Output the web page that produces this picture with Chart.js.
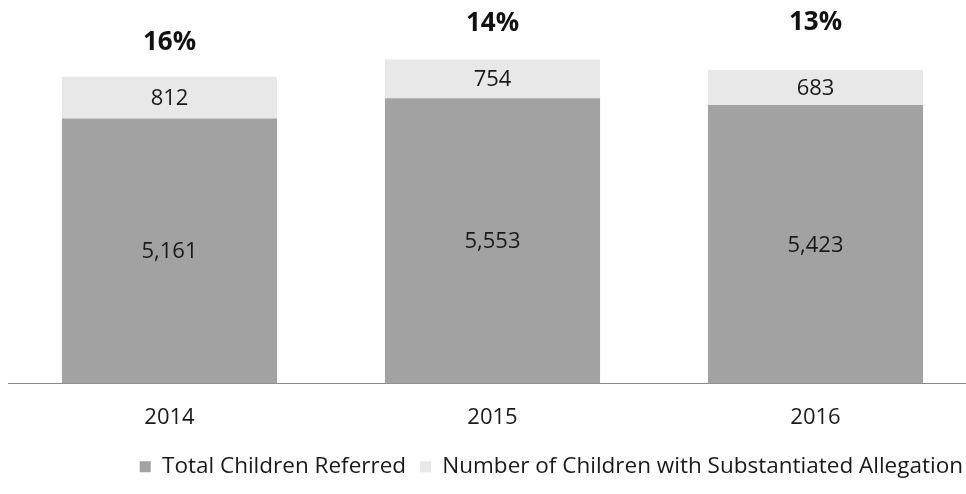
<!DOCTYPE html>
<html>
<head>
<meta charset="utf-8">
<script src="https://cdn.jsdelivr.net/npm/chart.js@4.4.1/dist/chart.umd.min.js"></script>
<style>
  html, body { margin: 0; padding: 0; background: #fff; overflow: hidden; }
  #wrap { width: 980px; height: 494px; }
</style>
</head>
<body>
<div id="wrap"><canvas id="chart" width="980" height="494"></canvas></div>
<script>
// Chart data
const categories = ['2014', '2015', '2016'];
const totalReferred = [5161, 5553, 5423];
const substantiated = [812, 754, 683];
const percentLabels = ['16%', '14%', '13%'];

// Distance from the top of each stack to its percent label (px)
const percentOffsets = [34, 36, 47];

const fontFamily = "'Open Sans', 'Liberation Sans', sans-serif";

// Draws the values inside the segments and the percent above each stack
const barLabels = {
  id: 'barLabels',
  afterDatasetsDraw(chart) {
    const c = chart.ctx;
    c.save();
    c.textAlign = 'center';
    c.textBaseline = 'middle';
    c.fillStyle = '#1a1a1a';
    c.font = '22px ' + fontFamily;
    chart.data.datasets.forEach((ds, i) => {
      chart.getDatasetMeta(i).data.forEach((bar, j) => {
        const mid = (bar.y + bar.base) / 2;
        c.fillText(ds.data[j].toLocaleString('en-US'), bar.x, mid + 1);
      });
    });
    const top = chart.getDatasetMeta(1).data;
    c.font = 'bold 26px ' + fontFamily;
    c.fillStyle = '#111';
    top.forEach((bar, j) => {
      c.fillText(percentLabels[j], bar.x, bar.y - percentOffsets[j]);
    });
    c.restore();
  }
};

new Chart(document.getElementById('chart'), {
  type: 'bar',
  data: {
    labels: categories,
    datasets: [
      {
        label: 'Total Children Referred',
        data: totalReferred,
        backgroundColor: '#a2a2a2',
        borderWidth: 0
      },
      {
        label: 'Number of Children with Substantiated Allegation',
        data: substantiated,
        backgroundColor: '#e8e8e8',
        borderWidth: 0
      }
    ]
  },
  options: {
    responsive: false,
    animation: false,
    events: [],
    layout: { padding: { left: 8, right: 3, top: 24, bottom: 6 } },
    datasets: {
      bar: { categoryPercentage: 1, barPercentage: 0.666 }
    },
    scales: {
      x: {
        stacked: true,
        grid: { display: false, drawTicks: false },
        border: { display: true, color: '#8a8a8a', width: 1 },
        ticks: {
          padding: 21,
          color: '#1a1a1a',
          font: { family: fontFamily, size: 22 }
        },
        afterFit(scale) {
          scale.height = 58;
        }
      },
      y: {
        stacked: true,
        display: false,
        min: 0,
        max: 7000
      }
    },
    plugins: {
      tooltip: { enabled: false },
      legend: {
        position: 'bottom',
        align: 'end',
        labels: {
          boxWidth: 11,
          boxHeight: 11,
          padding: 14,
          color: '#1a1a1a',
          font: { family: fontFamily, size: 22.5 }
        }
      }
    }
  },
  plugins: [barLabels]
});
</script>
</body>
</html>
